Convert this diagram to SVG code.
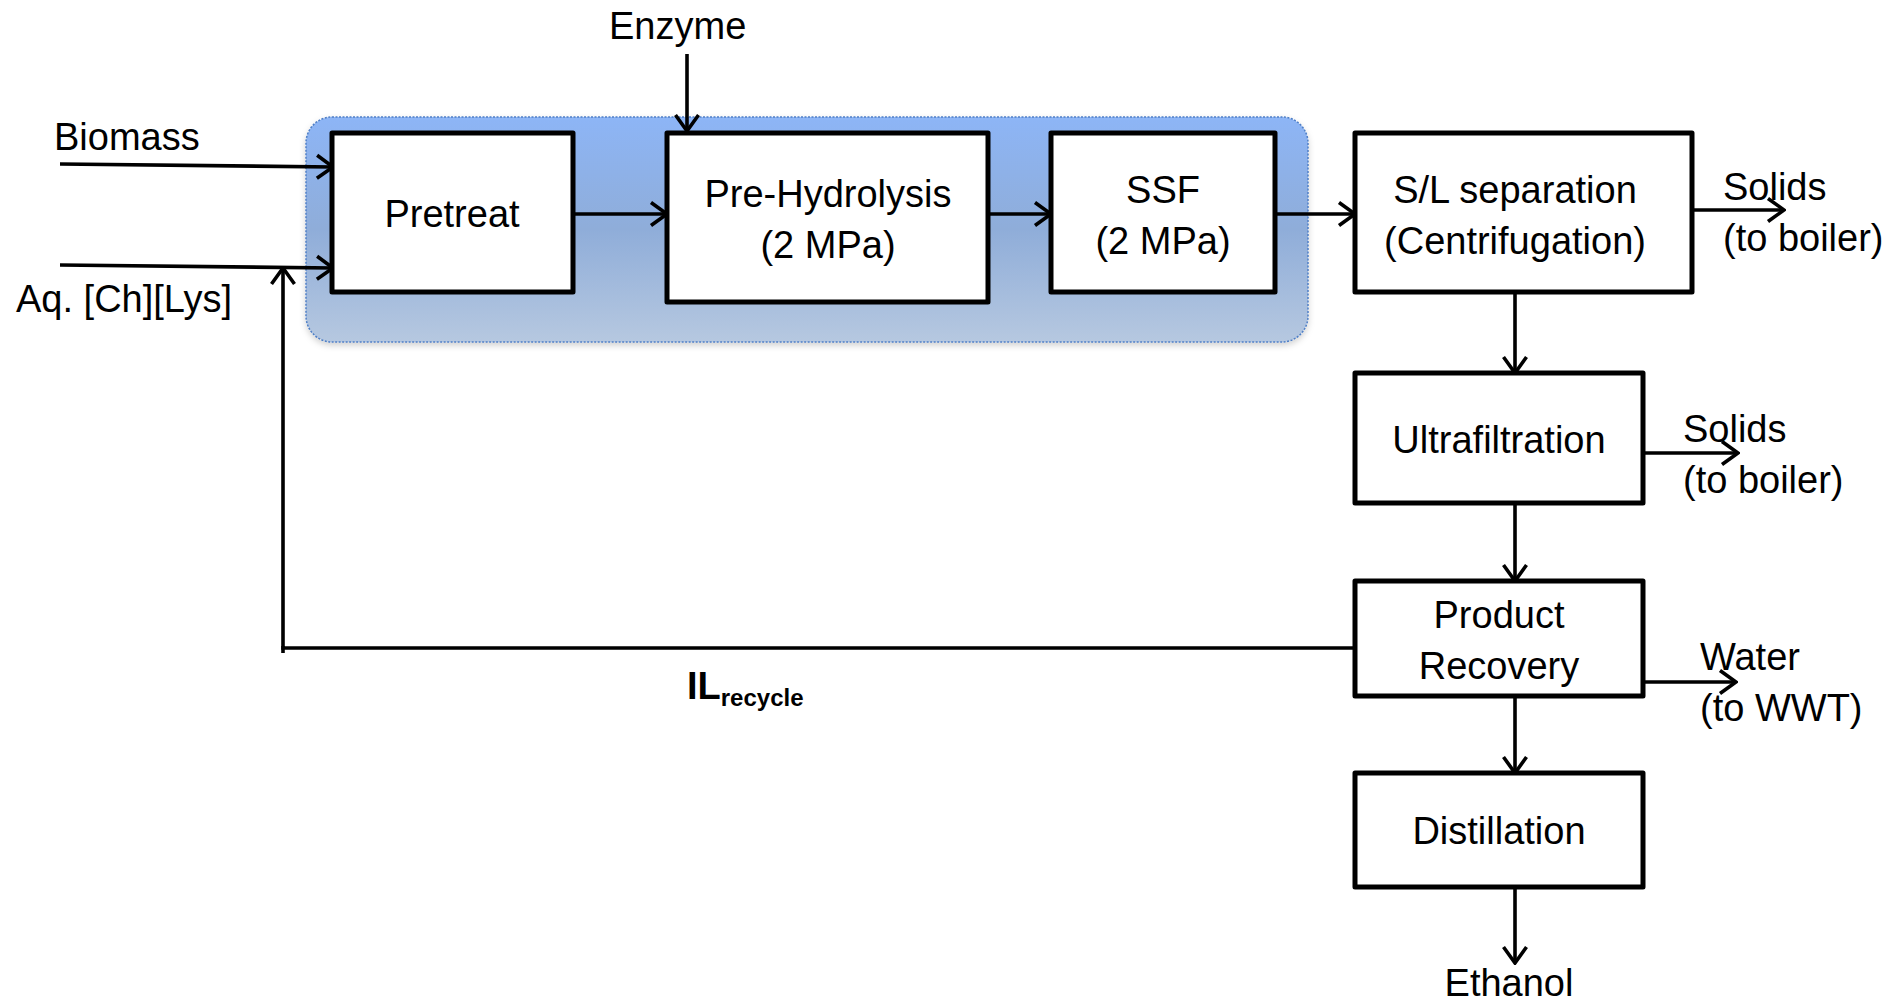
<svg xmlns="http://www.w3.org/2000/svg" width="1899" height="1001" viewBox="0 0 1899 1001">
<defs>
<linearGradient id="grp" x1="0" y1="0" x2="0" y2="1">
<stop offset="0" stop-color="#8db5f6"/>
<stop offset="0.5" stop-color="#8fadd9"/>
<stop offset="1" stop-color="#b6c8e0"/>
</linearGradient>
<marker id="arr" viewBox="0 0 20 28" refX="18" refY="14" markerWidth="20" markerHeight="28" orient="auto" markerUnits="userSpaceOnUse">
<path d="M2,2.5 L18,14 L2,25.5" fill="none" stroke="#000" stroke-width="3.6"/>
</marker>
<filter id="sh" x="-5%" y="-10%" width="110%" height="130%">
<feDropShadow dx="0" dy="3" stdDeviation="3" flood-color="#000" flood-opacity="0.18"/>
</filter>
</defs>
<style>
.box{fill:#fff;stroke:#000;stroke-width:5;stroke-linejoin:round}
.t{font-family:"Liberation Sans",Arial,sans-serif;font-size:38px;fill:#000}
.c{text-anchor:middle}
.ln{fill:none;stroke:#000;stroke-width:3.6}
.a{marker-end:url(#arr)}
</style>
<rect width="1899" height="1001" fill="#fff"/>

<g id="group">
<rect x="306" y="117" width="1002" height="225" rx="26" fill="url(#grp)" stroke="#4f7fc6" stroke-width="1.5" stroke-dasharray="2 1.5" filter="url(#sh)"/>
</g>

<g id="connectors">
<path class="ln a" d="M60,164 L333,167"/>
<path class="ln a" d="M60,265 L333,268"/>
<path class="ln a" d="M687,54 L687,131"/>
<path class="ln a" d="M573,214 L667,214"/>
<path class="ln a" d="M988,214 L1051,214"/>
<path class="ln a" d="M1275,214 L1355,214"/>
<path class="ln a" d="M1692,210 L1784,210"/>
<path class="ln a" d="M1515,292 L1515,373"/>
<path class="ln a" d="M1643,453 L1738,453"/>
<path class="ln a" d="M1515,503 L1515,581"/>
<path class="ln a" d="M1643,682 L1736,682"/>
<path class="ln a" d="M1515,696 L1515,773"/>
<path class="ln a" d="M1515,887 L1515,963"/>
<path class="ln a" d="M1355,648 L283,648 L283,268"/>
<path class="ln" d="M283,646 L283,653"/>
</g>

<g id="labels">
<text class="t" x="54" y="150">Biomass</text>
<text class="t" x="16" y="312">Aq. [Ch][Lys]</text>
<text class="t" x="609" y="39">Enzyme</text>
<text class="t" x="1723" y="200">Solids</text>
<text class="t" x="1723" y="251">(to boiler)</text>
<text class="t" x="1683" y="442">Solids</text>
<text class="t" x="1683" y="493">(to boiler)</text>
<text class="t" x="1700" y="670">Water</text>
<text class="t" x="1700" y="721">(to WWT)</text>
<text class="t c" x="1509" y="996">Ethanol</text>
<text class="t" x="687" y="699" font-weight="bold">IL<tspan font-size="24" dy="7">recycle</tspan></text>
</g>

<g id="pretreat">
<rect class="box" x="332" y="133" width="241" height="159"/>
<text class="t c" x="452" y="227">Pretreat</text>
</g>
<g id="prehydrolysis">
<rect class="box" x="667" y="133" width="321" height="169"/>
<text class="t c" x="828" y="207">Pre-Hydrolysis</text>
<text class="t c" x="828" y="258">(2 MPa)</text>
</g>
<g id="ssf">
<rect class="box" x="1051" y="133" width="224" height="159"/>
<text class="t c" x="1163" y="203">SSF</text>
<text class="t c" x="1163" y="254">(2 MPa)</text>
</g>
<g id="sl">
<rect class="box" x="1355" y="133" width="337" height="159"/>
<text class="t c" x="1515" y="203">S/L separation</text>
<text class="t c" x="1515" y="254">(Centrifugation)</text>
</g>
<g id="ultrafiltration">
<rect class="box" x="1355" y="373" width="288" height="130"/>
<text class="t c" x="1499" y="453">Ultrafiltration</text>
</g>
<g id="productrecovery">
<rect class="box" x="1355" y="581" width="288" height="115"/>
<text class="t c" x="1499" y="628">Product</text>
<text class="t c" x="1499" y="679">Recovery</text>
</g>
<g id="distillation">
<rect class="box" x="1355" y="773" width="288" height="114"/>
<text class="t c" x="1499" y="844">Distillation</text>
</g>
</svg>
